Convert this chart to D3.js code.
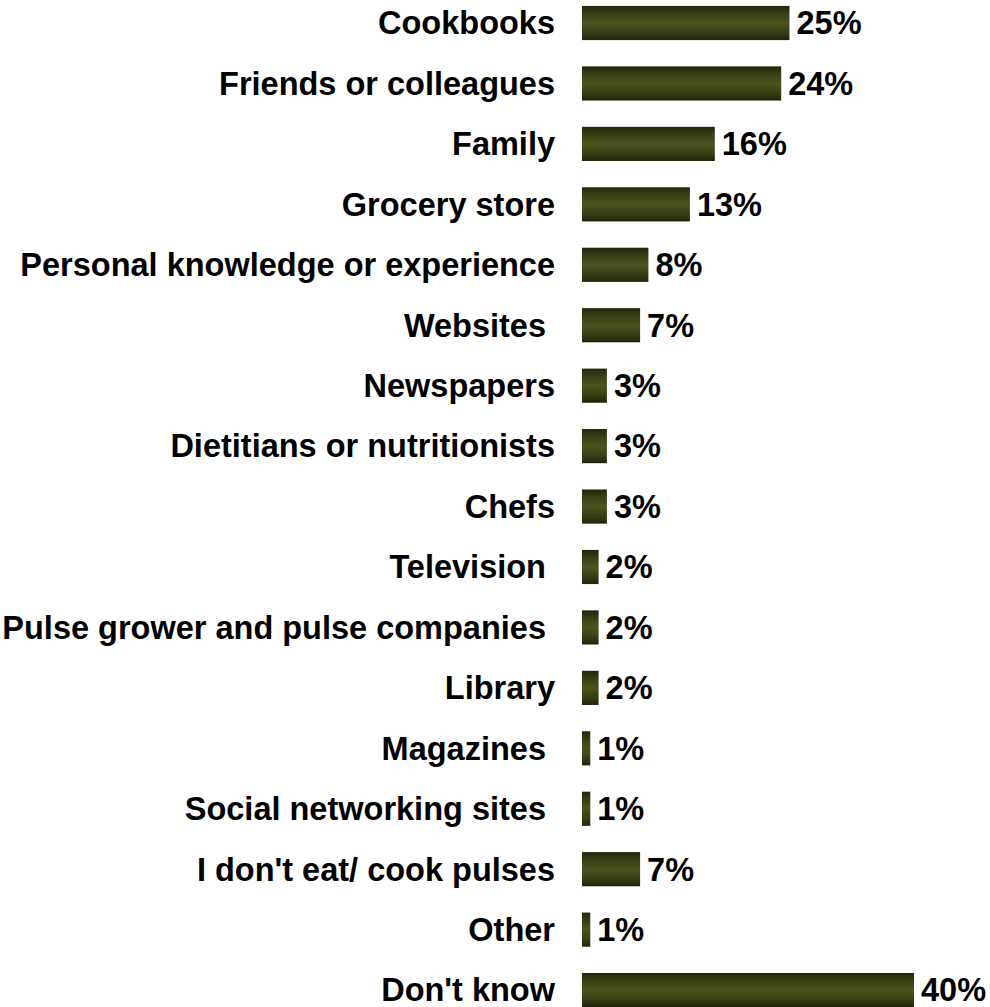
<!DOCTYPE html>
<html>
<head>
<meta charset="utf-8">
<script src="https://cdn.jsdelivr.net/npm/d3@7"></script>
<style>
  html, body { margin: 0; padding: 0; background: #fff; }
  svg { display: block; }
  text { font-family: "Liberation Sans", Arial, sans-serif; font-weight: bold; fill: #000; white-space: pre; }
</style>
</head>
<body>
<script>
// Sources of pulse recipes / information (share of respondents)
const categories = [
  "Cookbooks",
  "Friends or colleagues",
  "Family",
  "Grocery store",
  "Personal knowledge or experience",
  "Websites ",
  "Newspapers",
  "Dietitians or nutritionists",
  "Chefs",
  "Television ",
  "Pulse grower and pulse companies ",
  "Library",
  "Magazines ",
  "Social networking sites ",
  "I don't eat/ cook pulses",
  "Other",
  "Don't know"
];
const values = [25, 24, 16, 13, 8, 7, 3, 3, 3, 2, 2, 2, 1, 1, 7, 1, 40];
const valueLabels = ["25%", "24%", "16%", "13%", "8%", "7%", "3%", "3%", "3%", "2%", "2%", "2%", "1%", "1%", "7%", "1%", "40%"];

const W = 990, H = 1007;
const svg = d3.select("body").append("svg").attr("width", W).attr("height", H);

const barLeft = 582;
const x = d3.scaleLinear().domain([0, 40]).range([barLeft, barLeft + 332]);
const y = d3.scaleBand().domain(categories).range([-7.2, 1020.3]).paddingInner(0.435).paddingOuter(0.2175);

// vertical shading on each bar: dark edges, lighter olive core
const defs = svg.append("defs");
const grad = defs.append("linearGradient").attr("id", "barShade")
  .attr("x1", 0).attr("y1", 0).attr("x2", 0).attr("y2", 1);
[[0, "#222509"], [0.18, "#343a13"], [0.5, "#4b541d"], [0.82, "#343a13"], [1, "#1f2208"]]
  .forEach(([o, c]) => grad.append("stop").attr("offset", o).attr("stop-color", c));

const rows = categories.map((c, i) => ({ c, v: values[i], lab: valueLabels[i] }));

svg.append("g").selectAll("rect").data(rows).join("rect")
  .attr("x", x(0))
  .attr("y", d => y(d.c))
  .attr("width", d => x(d.v) - x(0))
  .attr("height", y.bandwidth())
  .attr("fill", "url(#barShade)");

// category axis labels, right-aligned against the bars
const fs = 32.5;
svg.append("g").selectAll("text").data(rows).join("text")
  .attr("x", 555)
  .attr("y", d => y(d.c) + y.bandwidth() / 2)
  .attr("dy", "0.35em")
  .attr("text-anchor", "end")
  .attr("font-size", fs)
  .text(d => d.c);

// value labels at the bar ends
svg.append("g").selectAll("text").data(rows).join("text")
  .attr("x", d => x(d.v) + 7)
  .attr("y", d => y(d.c) + y.bandwidth() / 2)
  .attr("dy", "0.35em")
  .attr("font-size", fs)
  .text(d => d.lab);
</script>
</body>
</html>
